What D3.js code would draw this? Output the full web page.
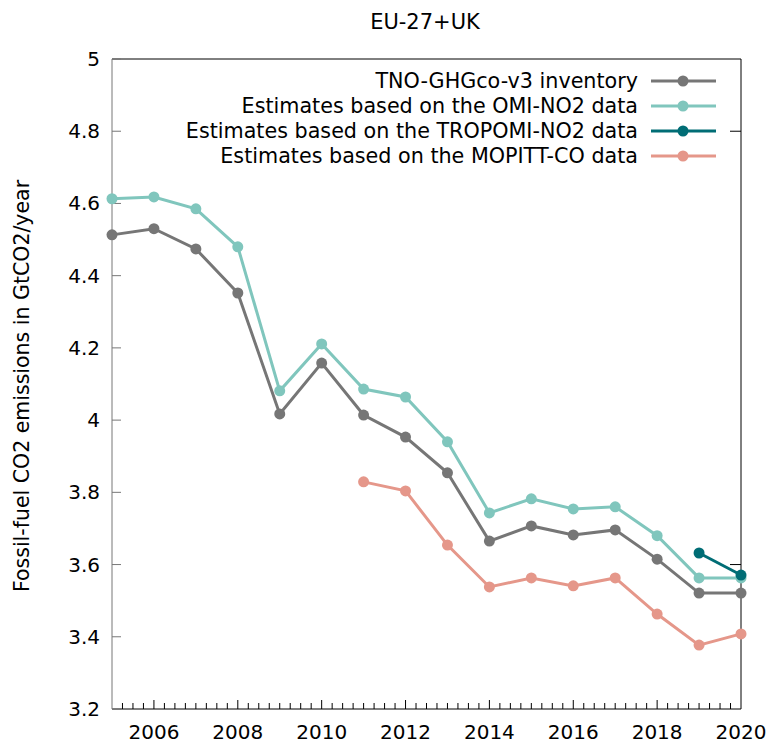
<!DOCTYPE html><html><head><script src="https://cdn.jsdelivr.net/npm/d3@7"></script>
<style>body{margin:0;background:#fff}text{font-family:"DejaVu Sans",sans-serif;}</style></head><body>
<svg id="c" width="767" height="743"></svg>
<script>
const years=d3.range(2005,2021);
const tno=[4.513,4.53,4.474,4.352,4.017,4.158,4.014,3.953,3.854,3.665,3.707,3.682,3.696,3.615,3.521,3.521];
const omi=[4.613,4.618,4.585,4.48,4.081,4.211,4.086,4.064,3.94,3.743,3.782,3.754,3.76,3.68,3.563,3.563];
const tropYears=[2019,2020], trop=[3.632,3.571];
const mopYears=d3.range(2011,2021), mop=[3.829,3.804,3.654,3.538,3.563,3.541,3.563,3.463,3.377,3.408];
const yTicks=[3.2,3.4,3.6,3.8,4,4.2,4.4,4.6,4.8,5];
const xTicks=[2006,2008,2010,2012,2014,2016,2018,2020];
const series=[
 {name:"TNO-GHGco-v3 inventory",x:years,y:tno,c:"#767676"},
 {name:"Estimates based on the OMI-NO2 data",x:years,y:omi,c:"#80c6bd"},
 {name:"Estimates based on the TROPOMI-NO2 data",x:tropYears,y:trop,c:"#006d75"},
 {name:"Estimates based on the MOPITT-CO data",x:mopYears,y:mop,c:"#e5978a"}];
const L=112,R=741,T=59,B=709;
const x=d3.scaleLinear().domain([2005,2020]).range([L,R]);
const y=d3.scaleLinear().domain([3.2,5]).range([B,T]);
const svg=d3.select("#c");
svg.append("line").attr("x1",L).attr("x2",R).attr("y1",T).attr("y2",T).attr("stroke","#000");
svg.append("line").attr("x1",R).attr("x2",R).attr("y1",T).attr("y2",B).attr("stroke","#000");
svg.append("line").attr("x1",L).attr("x2",R).attr("y1",B).attr("y2",B).attr("stroke","#000");
svg.append("line").attr("x1",L).attr("x2",L).attr("y1",T).attr("y2",B).attr("stroke","#777");
const g=svg.append("g");
yTicks.forEach(v=>{g.append("line").attr("x1",L).attr("x2",L+9).attr("y1",y(v)).attr("y2",y(v)).attr("stroke","#777");
 if(v===4.8||v===3.6) g.append("line").attr("x1",R).attr("x2",R-11).attr("y1",y(v)).attr("y2",y(v)).attr("stroke","#000");
 g.append("text").attr("x",L-12).attr("y",y(v)+7).attr("text-anchor","end").attr("font-size",20).text(+v.toFixed(1));});
d3.range(0,61).forEach(k=>{const v=2005+k/4;if(k===0||k===60)return;const len=(k%8===4)?9:6;
 g.append("line").attr("x1",x(v)).attr("x2",x(v)).attr("y1",B).attr("y2",B-len).attr("stroke","#000");});
xTicks.forEach(v=>g.append("text").attr("x",x(v)).attr("y",B+30).attr("text-anchor","middle").attr("font-size",20).text(v));
svg.append("text").attr("x",425).attr("y",29).attr("text-anchor","middle").attr("font-size",21).text("EU-27+UK");
svg.append("text").attr("transform",`translate(29,${(T+B)/2+2}) rotate(-90)`).attr("text-anchor","middle").attr("font-size",20.5).text("Fossil-fuel CO2 emissions in GtCO2/year");
const line=d3.line().x(d=>x(d[0])).y(d=>y(d[1]));
series.forEach((s,i)=>{const pts=s.x.map((v,j)=>[v,s.y[j]]);
 svg.append("path").attr("d",line(pts)).attr("fill","none").attr("stroke",s.c).attr("stroke-width",3);
 svg.selectAll(null).data(pts).enter().append("circle").attr("cx",d=>x(d[0])).attr("cy",d=>y(d[1])).attr("r",5.5).attr("fill",s.c);
 const ly=81+i*25;
 svg.append("text").attr("x",638).attr("y",ly+7).attr("text-anchor","end").attr("font-size",20.7).text(s.name);
 svg.append("line").attr("x1",651).attr("x2",716).attr("y1",ly).attr("y2",ly).attr("stroke",s.c).attr("stroke-width",3);
 svg.append("circle").attr("cx",683).attr("cy",ly).attr("r",5.5).attr("fill",s.c);});
</script></body></html>
